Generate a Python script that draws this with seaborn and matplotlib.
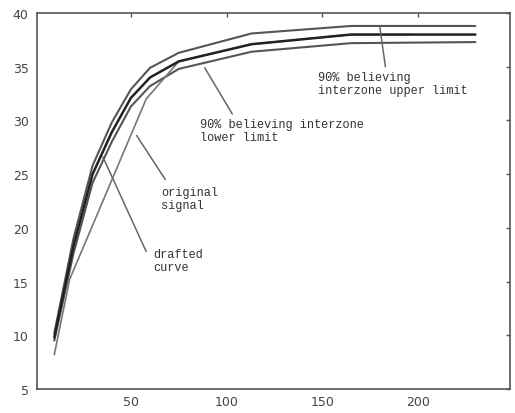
import matplotlib
matplotlib.use('Agg')
import matplotlib.pyplot as plt
import numpy as np
import pandas as pd
import seaborn as sns

# values
x_band = [10, 20, 30, 40, 50, 60, 75, 113, 165, 230]
upper_limit = [10.2, 19.0, 25.8, 29.8, 32.9, 34.9, 36.3, 38.1, 38.8, 38.8]
original_signal = [9.8, 18.3, 25.0, 28.9, 32.1, 34.0, 35.5, 37.1, 38.0, 38.0]
lower_limit = [9.5, 17.6, 24.2, 28.0, 31.3, 33.2, 34.8, 36.4, 37.2, 37.3]

x_drafted = [10, 18, 58, 75, 113, 165, 197]
drafted_curve = [8.2, 15.2, 32.0, 35.5, 37.1, 38.0, 38.0]

sns.set_style('white')
plt.rcParams['font.family'] = ['DejaVu Sans']

fig = plt.figure(figsize=(5.15, 4.14), dpi=100)
ax = fig.add_axes([0.072, 0.058, 0.918, 0.908])

sns.lineplot(x=x_band, y=upper_limit, ax=ax, color='#555555', lw=1.5, estimator=None)
sns.lineplot(x=x_band, y=lower_limit, ax=ax, color='#555555', lw=1.5, estimator=None)
sns.lineplot(x=x_drafted, y=drafted_curve, ax=ax, color='#777777', lw=1.2, estimator=None)
sns.lineplot(x=x_band, y=original_signal, ax=ax, color='#222222', lw=1.8, estimator=None)

# leader lines and labels
mono = 'Liberation Mono'
notes = [
    ('90% believing\ninterzone upper limit', (180, 38.8), (183, 35.0), (148, 34.6)),
    ('90% believing interzone\nlower limit', (88.6, 34.9), (103, 30.6), (86, 30.2)),
    ('original\nsignal', (53, 28.6), (68, 24.5), (66, 23.9)),
    ('drafted\ncurve', (35.4, 26.6), (58, 17.8), (61.5, 18.1)),
]
for text, p0, p1, ptxt in notes:
    ax.plot([p0[0], p1[0]], [p0[1], p1[1]], color='#666666', lw=1.1)
    ax.text(ptxt[0], ptxt[1], text, family=mono, fontsize=8.6, color='#333333',
            va='top', ha='left', linespacing=1.1)

ax.set_xlim(1, 248)
ax.set_ylim(5, 40)
ax.set_xticks([50, 100, 150, 200])
ax.set_yticks([5, 10, 15, 20, 25, 30, 35, 40])
ax.tick_params(direction='in', top=True, right=True, length=3, width=1,
               colors='#555555', labelsize=9, labelcolor='#444444', pad=4)
ax.tick_params(axis='y', pad=6)
for s in ax.spines.values():
    s.set_color('#555555')
    s.set_linewidth(1.2)

fig.savefig('out.png', dpi=100)
